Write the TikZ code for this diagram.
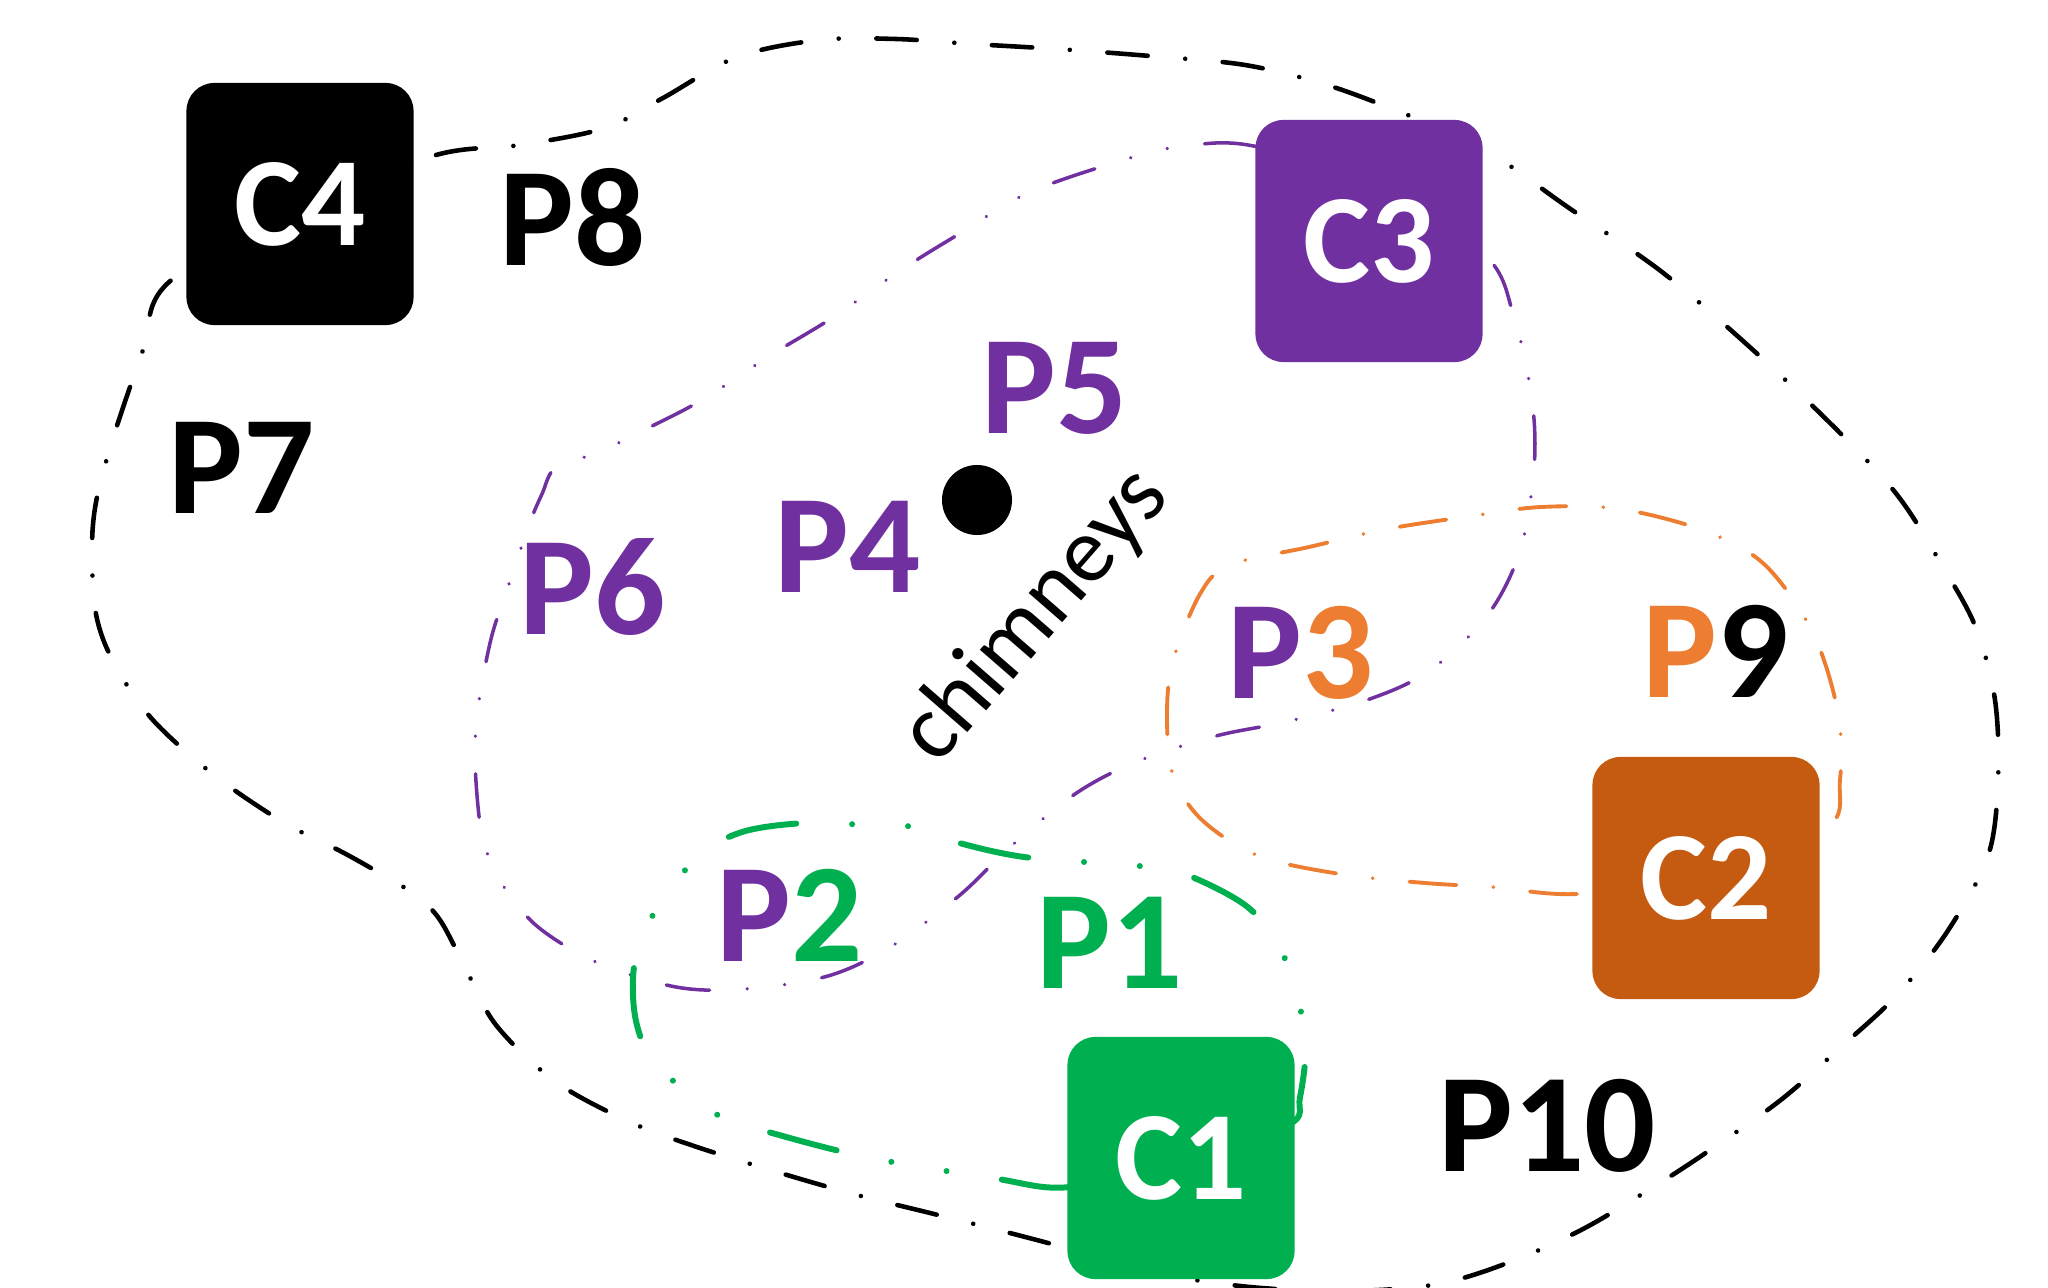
\documentclass[tikz,border=0pt]{standalone}
\usepackage{fontspec}
\setmainfont{Carlito}
\usepackage{tikz}
\usetikzlibrary{positioning}

\definecolor{cpurple}{HTML}{7030A0}
\definecolor{corange}{HTML}{ED7D31}
\definecolor{cbrown}{HTML}{C55A11}
\definecolor{cgreen}{HTML}{00B050}

\begin{document}
\begin{tikzpicture}[x=0.01cm, y=-0.01cm,
    box/.style={rectangle, rounded corners=0.28cm, minimum width=2.27cm,
        minimum height=2.42cm, inner sep=0pt, text=white,
        font=\fontsize{36}{36}\selectfont\bfseries},
    lbl/.style={inner sep=0pt, font=\fontsize{40}{40}\selectfont\bfseries},
    bline/.style={line width=1.3pt, line cap=round,
        dash pattern=on 11.5pt off 10.7pt on 0.01pt off 10.7pt},
    pline/.style={cpurple, line width=1pt, line cap=round,
        dash pattern=on 12.4pt off 10.7pt on 0.01pt off 10.7pt on 0.01pt off 10.7pt},
    oline/.style={corange, line width=1.1pt, line cap=round,
        dash pattern=on 13.4pt off 10.5pt on 0.01pt off 10.5pt},
    gline/.style={cgreen, line width=1.7pt, line cap=round,
        dash pattern=on 19.6pt off 15.9pt on 0.01pt off 15.9pt on 0.01pt off 15.9pt}
    ]
                    \useasboundingbox (0,0) rectangle (2048,1288);
                    % Regions
                    \draw[bline] plot[smooth cycle, tension=0.55] coordinates {
                        (300,205) (436,155) (520,145) (605,128) (663,98) (737,57)
                        (820,40) (896,39) (972,44) (1057,49) (1150,56) (1245,65)
                        (1327,85) (1405,114) (1481,147) (1569,208) (1662,272)
                        (1753,350) (1838,431) (1898,496) (1943,567) (1976,628)
                        (1995,700) (1998,780) (1988,856) (1947,932) (1896,996)
                        (1842,1046) (1782,1099) (1713,1148) (1655,1186) (1583,1229)
                        (1510,1262) (1438,1284) (1350,1291) (1250,1287) (1150,1272)
                        (1070,1249) (1006,1232) (926,1212) (857,1195) (777,1172)
                        (694,1146) (630,1122) (556,1082) (496,1025) (464,965)
                        (440,920) (417,896) (388,878) (344,853) (283,822) (214,775)
                        (152,719) (114,663) (96,614) (92,547) (97,497) (115,432)
                        (143,350) (168,283)};
                    \draw[pline] plot[smooth cycle, tension=0.55] coordinates {
                        (1369,180) (1248,145) (1179,147) (1130,158) (1030,192)
                        (959,234) (901,270) (832,318) (771,355) (702,400) (642,431)
                        (597,453) (556,467) (542,494) (529,525) (507,590) (491,639)
                        (478,708) (475,760) (480,824) (489,858) (504,887) (538,927)
                        (596,962) (676,987) (745,989) (828,976) (892,946) (960,895)
                        (1009,848) (1075,794) (1136,762) (1216,736) (1285,722)
                        (1367,700) (1429,671) (1487,616) (1520,551) (1534,469)
                        (1532,400) (1514,317) (1484,254)};
                    \draw[oline] plot[smooth cycle, tension=0.55] coordinates {
                        (1706,878) (1577,894) (1492,887) (1425,883) (1340,874)
                        (1259,856) (1202,820) (1173,775) (1167,715) (1173,661)
                        (1200,594) (1230,565) (1309,547) (1387,529) (1472,516)
                        (1541,507) (1620,509) (1705,531) (1765,565) (1813,633)
                        (1838,713) (1840,780) (1826,829)};
                    \draw[gline] plot[smooth cycle, tension=0.55] coordinates {
                        (1181,1158) (1070,1187) (992,1178) (866,1157) (765,1131)
                        (716,1114) (656,1064) (636,1021) (634,967) (650,920)
                        (696,858) (739,833) (791,824) (843,824) (915,827) (952,841)
                        (1024,857) (1127,865) (1179,872) (1245,905) (1279,946)
                        (1296,994) (1306,1041) (1300,1097) (1288,1125)};
                    % Boxes
                    \node[box, fill=black] (c4) at (300,204) {C4};
                    \node[box, fill=cpurple] (c3) at (1369,241) {C3};
                    \node[box, fill=cbrown] (c2) at (1706,878) {C2};
                    \node[box, fill=cgreen] (c1) at (1181,1158) {C1};
                    % Chimneys
                    \node[circle, fill=black, minimum size=0.7cm, inner sep=0pt] (chim) at (977,500) {};
                    \node[rotate=49, inner sep=0pt, font=\fontsize{26.5}{26.5}\selectfont] (chimtxt) at (1036,616) {chimneys};
                    % Labels
                    \node[lbl] (p8) at (573,217) {P8};
                    \node[lbl] (p7) at (242,468) {P7};
                    \node[lbl, cpurple] (p5) at (1055,388) {P5};
                    \node[lbl, cpurple] (p4) at (848,547) {P4};
                    \node[lbl, cpurple] (p6) at (593,587) {P6};
                    \node[lbl] (p3) at (1301,653) {\textcolor{cpurple}{P}\textcolor{corange}{3}};
                    \node[lbl] (p9) at (1716,651) {\textcolor{corange}{P}9};
                    \node[lbl] (p2) at (790,915) {\textcolor{cpurple}{P}\textcolor{cgreen}{2}};
                    \node[lbl, cgreen] (p1) at (1110,943) {P1};
                    \node[lbl] (p10) at (1547,1126) {P10};
\end{tikzpicture}
\end{document}
